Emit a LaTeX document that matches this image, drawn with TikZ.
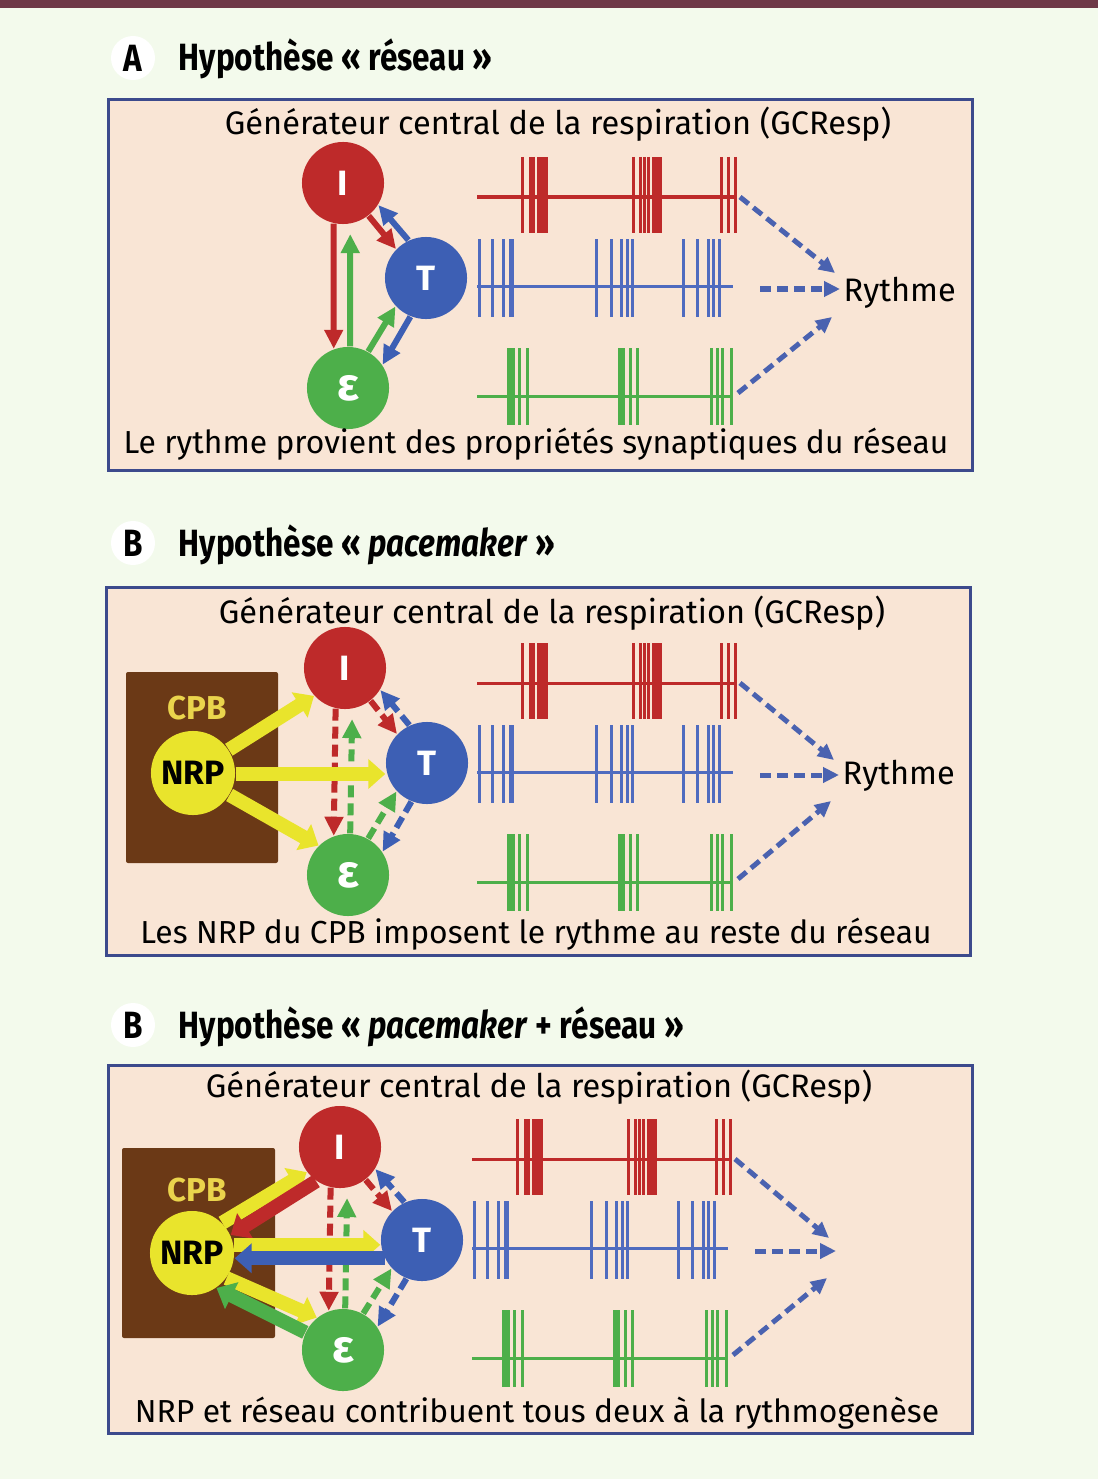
\documentclass[tikz,border=0pt]{standalone}
\usepackage{fontspec}
\setmainfont{Fira Sans}
\newfontfamily\headfont[FakeStretch=0.83]{Fira Sans}
\usepackage{tikz}
\usetikzlibrary{arrows.meta}
\definecolor{bgcol}{HTML}{F3FAEC}
\definecolor{barcol}{HTML}{6E3847}
\definecolor{boxfill}{HTML}{F9E5D5}
\definecolor{boxline}{HTML}{3C4A8C}
\definecolor{nred}{HTML}{BE2A2A}
\definecolor{nblue}{HTML}{3D5FB4}
\definecolor{ngreen}{HTML}{4DAF4A}
\definecolor{nyellow}{HTML}{E9E42C}
\definecolor{sblue}{HTML}{4F6BBF}
\definecolor{cpbbrown}{HTML}{6B3916}
\definecolor{cpbtext}{HTML}{EAD44C}
\definecolor{rythcol}{HTML}{4A62B0}
\tikzset{
  neuron/.style={circle, inner sep=0pt, minimum size=0.82cm, text=white, font=\fontsize{10}{10}\selectfont\bfseries},
  nrp/.style={circle, inner sep=0pt, minimum size=0.84cm, fill=nyellow, font=\fontsize{9.6}{9.6}\selectfont\bfseries},
  syn/.style={line width=0.06cm, -{Triangle[length=0.19cm,width=0.18cm]}},
  dsyn/.style={syn, dash pattern=on 0.12cm off 0.06cm},
  pace/.style={line width=0.14cm, -{Triangle[length=0.17cm,width=0.29cm]}},
  rythm/.style={draw=rythcol, line width=0.05cm, dash pattern=on 0.11cm off 0.06cm, -{Triangle[length=0.16cm,width=0.15cm]}},
  panel/.style={draw=boxline, fill=boxfill, line width=0.03cm},
  caption/.style={anchor=base, inner sep=0pt, font=\fontsize{9.25}{9.25}\selectfont},
  footer/.style={caption, font=\fontsize{9.05}{9.05}\selectfont},
  heading/.style={anchor=base west, inner sep=0pt, font=\headfont\fontsize{10.8}{10.8}\selectfont\bfseries},
  letter/.style={circle, fill=white, minimum size=0.44cm, inner sep=0pt, font=\headfont\fontsize{10.8}{10.8}\selectfont\bfseries},
  spike/.style={line width=0.03cm}
}
\newcommand{\eps}{{\fontsize{13}{13}\selectfont ε}}
\newcommand{\spiketrains}[3]{%
  \begin{scope}[shift={(#1,#2)}]
    % red train
    \draw[spike, nred] (0,0) -- (258,0);
    \foreach \s in {45,53,56,156,163,167,171,244,251,258}
      \draw[spike, nred] (\s,-40) -- (\s,36);
    \fill[nred] (60,-40) rectangle (71,36);
    \fill[nred] (175,-40) rectangle (185,36);
    % blue train
    \draw[spike, sblue] (0,89) -- (256,89);
    \foreach \s in {2,15,26,119,134,144,150,155,206,220,231,236,242}
      \draw[spike, sblue] (\s,42) -- (\s,120);
    \fill[sblue] (32,42) rectangle (37,120);
    % green train
    \draw[spike, ngreen] (0,199) -- (256,199);
    \foreach \s in {42,50,153,160,234,240,245,254}
      \draw[spike, ngreen] (\s,151) -- (\s,228);
    \fill[ngreen] (30,151) rectangle (38,228);
    \fill[ngreen] (141,151) rectangle (148,228);
    \coordinate (r#3) at (263,0);
    \coordinate (b#3) at (283,92);
    \coordinate (g#3) at (261,196);
  \end{scope}}
\newcommand{\network}[2]{%
  \draw[#1, nred] (I#2.257) -- (E#2.110);
  \draw[#1, ngreen, shorten >=0.1cm] (E#2.87) -- (I#2.280);
  \draw[#1, nred] (I#2.308) -- (T#2.136);
  \draw[#1, nblue] (T#2.115) -- (I#2.328);
  \draw[#1, ngreen] (E#2.61) -- (T#2.223);
  \draw[#1, nblue] (T#2.248) -- (E#2.34);}

\begin{document}
\begin{tikzpicture}[x=0.01cm,y=-0.01cm]
  \useasboundingbox (0,0) rectangle (1098,1479);
  %background
  \fill[bgcol] (0,0) rectangle (1098,1479);
  \fill[barcol] (0,0) rectangle (1098,8);

  %panel A
  \node[letter] (labA) at (133,58) {A};
  \node[heading] (titA) at (178,71) {Hypothèse « réseau »};
  \draw[panel] (108,100) rectangle (972,470);
  \node[caption] (capA) at (558,135) {Générateur central de la respiration (GCResp)};
  \node[neuron, fill=nred] (IA) at (343,183) {I};
  \node[neuron, fill=nblue] (TA) at (426,278) {T};
  \node[neuron, fill=ngreen] (EA) at (348,388) {\eps};
  \network{syn}{A}
  \spiketrains{477}{197}{A}
  \node[caption, anchor=base west, inner sep=0.03cm] (rythA) at (840,301) {Rythme};
  \coordinate (tipA) at (840,289);
  \draw[rythm] (rA) -- ([shift={(-5,-16)}]tipA);
  \draw[rythm] (bA) -- (tipA);
  \draw[rythm] (gA) -- ([shift={(-8,28)}]tipA);
  \node[footer] (botA) at (536,453) {Le rythme provient des propriétés synaptiques du réseau};

  %panel B
  \node[letter] (labB) at (133,543) {B};
  \node[heading] (titB) at (178,556) {Hypothèse « \textit{pacemaker} »};
  \draw[panel] (106,587) rectangle (970,955);
  \node[caption] (capB) at (552,623) {Générateur central de la respiration (GCResp)};
  \fill[cpbbrown, rounded corners=0.02cm] (126,672) rectangle (278,863);
  \node[text=cpbtext, font=\fontsize{9.4}{9.4}\selectfont\bfseries] (cpbB) at (197,708) {CPB};
  \node[nrp] (NB) at (193,773) {NRP};
  \node[neuron, fill=nred] (IB) at (345,668) {I};
  \node[neuron, fill=nblue] (TB) at (427,763) {T};
  \node[neuron, fill=ngreen] (EB) at (348,875) {\eps};
  \network{dsyn}{B}
  \draw[pace, nyellow] (NB.33) -- (IB.222);
  \draw[pace, nyellow] ([yshift=-0.01cm]NB.east) -- ([yshift=-0.01cm]NB.east -| TB.west);
  \draw[pace, nyellow] (NB.-31) -- (EB.135);
  \spiketrains{477}{683}{B}
  \node[caption, anchor=base west, inner sep=0.03cm] (rythB) at (839,784) {Rythme};
  \coordinate (tipB) at (839,775);
  \draw[rythm] (rB) -- ([shift={(-5,-15)}]tipB);
  \draw[rythm] (bB) -- (tipB);
  \draw[rythm] (gB) -- ([shift={(-8,26)}]tipB);
  \node[footer] (botB) at (536,943) {Les NRP du CPB imposent le rythme au reste du réseau};

  %panel C
  \node[letter] (labC) at (133,1025) {B};
  \node[heading] (titC) at (178,1038) {Hypothèse « \textit{pacemaker} + réseau »};
  \draw[panel] (108,1065) rectangle (972,1433);
  \node[caption] (capC) at (539,1097) {Générateur central de la respiration (GCResp)};
  \fill[cpbbrown, rounded corners=0.02cm] (122,1148) rectangle (275,1338);
  \node[text=cpbtext, font=\fontsize{9.4}{9.4}\selectfont\bfseries] (cpbC) at (197,1190) {CPB};
  \node[nrp] (NC) at (192,1253) {NRP};
  \node[neuron, fill=nred] (IC) at (340,1147) {I};
  \node[neuron, fill=nblue] (TC) at (422,1240) {T};
  \node[neuron, fill=ngreen] (EC) at (343,1350) {\eps};
  \network{dsyn}{C}
  \draw[pace, nyellow] (NC.45) -- (IC.217);
  \draw[pace, nred] (IC.235) -- (NC.25);
  \draw[pace, nyellow] (NC.11) -- (NC.11 -| TC.west);
  \draw[pace, nblue] (TC.206) -- (TC.206 -| NC.east);
  \draw[pace, nyellow] (NC.-36) -- (EC.129);
  \draw[pace, ngreen] (EC.155) -- (NC.-55);
  \spiketrains{472}{1159}{C}
  \coordinate (tipC) at (836,1251);
  \draw[rythm] (rC) -- ([shift={(-7,-13)}]tipC);
  \draw[rythm] (bC) -- (tipC);
  \draw[rythm] (gC) -- ([shift={(-9,27)}]tipC);
  \node[footer] (botC) at (537,1422) {NRP et réseau contribuent tous deux à la rythmogenèse};
\end{tikzpicture}
\end{document}
